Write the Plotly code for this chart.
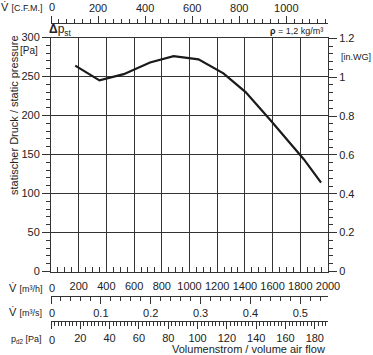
import plotly.graph_objects as go

# ---- data ----
flow_m3h = [175, 350, 525, 715, 885, 1065, 1245, 1405, 1585, 1825, 1950]
static_pa = [264, 245, 253, 268, 276, 272, 254, 230, 194, 144, 114]

flow_max_m3h = 2000
pa_max = 300
cfm_per_m3h = 1 / 1.69901
pa_per_inwg = 249.089
pd_max = 189

cfm_ticks_dtick = 200
m3h_dtick = 200
m3s_dtick = 0.1
pd_dtick = 20
pa_dtick = 50
inwg_dtick = 0.2

W, H = 373, 355
ML, MR, MT, MB = 51, 45, 23, 34
PW = W - ML - MR
PH = H - MT - MB

def px(x):
    return (x - ML) / PW

def py(y):
    return (H - MB - y) / PH

C = "#222222"
GRID = "#333333"
FONT = "Arial, Liberation Sans, sans-serif"

fig = go.Figure()
fig.add_trace(go.Scatter(x=flow_m3h, y=static_pa, mode="lines",
                         line=dict(color="#1a1a1a", width=2.2),
                         showlegend=False, hoverinfo="skip"))
# the same curve expressed in the other units, fully transparent, so each scale axis is instantiated
flow_cfm = [f * cfm_per_m3h for f in flow_m3h]
flow_m3s = [f / 3600 for f in flow_m3h]
flow_pd = [f * pd_max / flow_max_m3h for f in flow_m3h]
static_inwg = [p / pa_per_inwg for p in static_pa]
for xs, ys, xa, ya in [(flow_cfm, static_pa, "x2", "y"), (flow_m3s, static_pa, "x3", "y"),
                       (flow_pd, static_pa, "x4", "y"), (flow_m3h, static_inwg, "x", "y2")]:
    fig.add_trace(go.Scatter(x=xs, y=ys, xaxis=xa, yaxis=ya, mode="lines",
                             line=dict(color="rgba(0,0,0,0)", width=0), opacity=0,
                             showlegend=False, hoverinfo="skip"))

tickfont = dict(family=FONT, size=11, color=C)
common = dict(type="linear", zeroline=False, tickfont=tickfont, tick0=0,
              showline=True, linecolor=GRID, linewidth=1, tickcolor=GRID,
              ticklabeloverflow="allow")
# the origin label of each flow scale is written once, as text, below
no_zero = dict(labelalias={"0": ""})

fig.update_layout(
    width=W, height=H,
    margin=dict(l=ML, r=MR, t=MT, b=MB, autoexpand=False),
    paper_bgcolor="white", plot_bgcolor="white",
    font=dict(family=FONT, size=11, color=C),
    xaxis=dict(range=[0, flow_max_m3h], dtick=m3h_dtick,
               showgrid=True, gridcolor=GRID, gridwidth=1, mirror=True,
               ticks="inside", ticklen=5, ticklabelstandoff=4,
               minor=dict(dtick=50, ticks="inside", ticklen=5, tickcolor=GRID, showgrid=False),
               **no_zero, **common),
    yaxis=dict(range=[0, pa_max], dtick=pa_dtick,
               domain=[py(271.5), py(37.5)],
               showgrid=True, gridcolor=GRID, gridwidth=1, mirror=True,
               ticks="outside", ticklen=8,
               minor=dict(dtick=10, ticks="outside", ticklen=4, tickcolor=GRID, showgrid=False),
               **common),
    yaxis2=dict(range=[0, pa_max / pa_per_inwg], dtick=inwg_dtick,
                overlaying="y", side="right", anchor="x", showgrid=False,
                ticks="outside", ticklen=8,
                minor=dict(dtick=0.04, ticks="outside", ticklen=4, tickcolor=GRID),
                **common),
    xaxis2=dict(range=[0, flow_max_m3h * cfm_per_m3h], dtick=cfm_ticks_dtick,
                overlaying="x", anchor="free", position=1, side="top", showgrid=False,
                ticks="outside", ticklen=7,
                minor=dict(dtick=200 / 6, ticks="outside", ticklen=4, tickcolor=GRID),
                **no_zero, **common),
    xaxis3=dict(range=[0, flow_max_m3h / 3600], dtick=m3s_dtick,
                overlaying="x", anchor="free", position=py(295.5), side="bottom", showgrid=False,
                ticks="outside", ticklen=7,
                minor=dict(dtick=0.02, ticks="outside", ticklen=4, tickcolor=GRID),
                **no_zero, **common),
    xaxis4=dict(range=[0, pd_max], dtick=pd_dtick,
                overlaying="x", anchor="free", position=0, side="bottom", showgrid=False,
                ticks="outside", ticklen=7,
                minor=dict(dtick=2.5, ticks="outside", ticklen=4, tickcolor=GRID),
                **no_zero, **common),
)

ann = []
def add(text, x, y, xanchor="left", yanchor="middle", size=11, angle=0):
    ann.append(dict(text=text, x=px(x), y=py(y), xref="paper", yref="paper",
                    xanchor=xanchor, yanchor=yanchor, showarrow=False,
                    textangle=angle, font=dict(family=FONT, size=size, color=C)))

add("V\u0307 <span style='font-size:9px'>[C.F.M.]</span>", 44, 7, xanchor="right")
add("V\u0307 <span style='font-size:9px'>[m³/h]</span>", 44, 288, xanchor="right")
add("V\u0307 <span style='font-size:9px'>[m³/s]</span>", 44, 312, xanchor="right")
add("p<sub>d2</sub> <span style='font-size:9px'>[Pa]</span>", 44, 339, xanchor="right", size=9)
# origin labels of the four flow scales
for yy in (7, 288, 312.5, 339.5):
    add("0", 51.5, yy, xanchor="center")
add("Volumenstrom / volume air flow", 327, 349, xanchor="right")
add("<b>Δ</b>p<sub>st</sub>", 47, 30, size=12)
add("<b>ρ</b> = 1,2 kg/m³", 325, 31, xanchor="right", size=9)
add("[Pa]", 40, 50, xanchor="right", size=10)
add("[in.WG]", 339, 57, size=9)
add("statischer Druck / static pressure", 14, 115, xanchor="center", angle=-90)
fig.update_layout(annotations=ann)

fig.write_html("out.html", config={"displayModeBar": False},
               post_script="document.body.style.margin='0';document.body.style.overflow='hidden';")
